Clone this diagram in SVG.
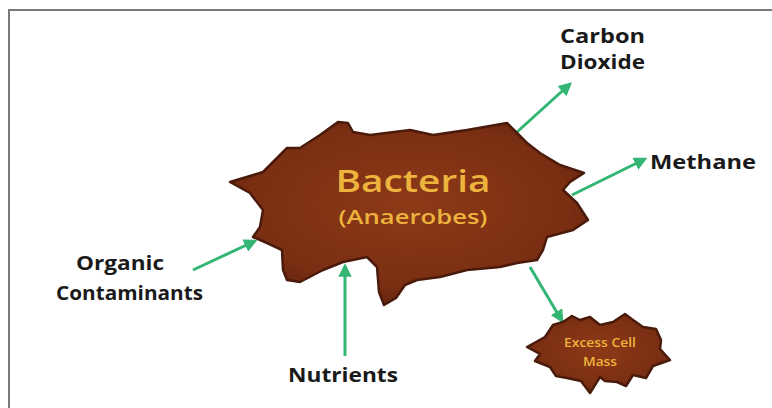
<svg xmlns="http://www.w3.org/2000/svg" width="772" height="408" viewBox="0 0 772 408">
<defs>
<style>
.lbl{font-family:"Open Sans","Liberation Sans",sans-serif;font-weight:700;font-size:19px;fill:#1a1a1a}
.gold{font-family:"Open Sans","Liberation Sans",sans-serif;font-weight:600;fill:#EDB33C}
.con{stroke:#33b574;stroke-width:3;fill:none;marker-end:url(#ah)}
.blob{stroke:#4a1a0a;stroke-width:2.5;stroke-linejoin:round}
</style>
<marker id="ah" viewBox="0 0 10 10" refX="8" refY="5" markerWidth="4.5" markerHeight="4.5" orient="auto" markerUnits="strokeWidth">
<path d="M0,0 L10,5 L0,10 z" fill="#33b574"/>
</marker>
<radialGradient id="bg" cx="0.5" cy="0.45" r="0.6">
<stop offset="0" stop-color="#8d3a18"/>
<stop offset="0.75" stop-color="#7a2e12"/>
<stop offset="1" stop-color="#5e220d"/>
</radialGradient>
</defs>
<rect width="772" height="408" fill="#fff"/>
<g id="frame" stroke="#7a7a7a" stroke-width="2" fill="none">
<path d="M9,408 V10 H772"/>
</g>
<g id="connectors">
<line class="con" x1="517" y1="132" x2="570" y2="84"/>
<line class="con" x1="572" y1="195" x2="645" y2="159"/>
<line class="con" x1="193" y1="270" x2="255" y2="241"/>
<line class="con" x1="345" y1="356" x2="345" y2="266"/>
<line class="con" x1="530" y1="267" x2="562" y2="321"/>
</g>
<g id="bacteria">
<path class="blob" fill="url(#bg)" d="M230,182 L250,176 L263,172 L278,157 L287,148 L300,148 L320,135 L338,122 L348,123 L353,132 L370,135 L410,130 L433,135 L467,130 L507,123 L517,133 L527,143 L540,153 L560,165 L584,173 L570,182 L563,190 L577,203 L588,220 L573,230 L547,237 L543,250 L537,260 L517,263 L500,267 L467,270 L440,277 L417,280 L405,285 L396,298 L384,305 L379,292 L377,267 L367,257 L343,262 L323,270 L300,282 L287,280 L283,270 L282,250 L267,243 L253,237 L260,227 L263,210 L250,193 Z"/>
<text class="gold" x="413" y="192" font-size="31" text-anchor="middle" textLength="155" lengthAdjust="spacingAndGlyphs">Bacteria</text>
<text class="gold" x="413" y="224" font-size="19" text-anchor="middle" textLength="149" lengthAdjust="spacingAndGlyphs">(Anaerobes)</text>
</g>
<g id="excess-cell-mass">
<path class="blob" fill="url(#bg)" d="M527,347 L545,337 L553,325 L563,322 L572,316 L580,320 L590,317 L600,325 L613,322 L625,314 L633,320 L643,327 L656,329 L661,340 L660,349 L670,360 L653,366 L646,378 L633,375 L626,386 L617,382 L605,381 L600,377 L590,393 L581,381 L567,378 L556,376 L550,367 L535,361 L540,354 Z"/>
<text class="gold" x="600" y="347" font-size="12" text-anchor="middle" textLength="72" lengthAdjust="spacingAndGlyphs">Excess Cell</text>
<text class="gold" x="600" y="366" font-size="12" text-anchor="middle" textLength="34" lengthAdjust="spacingAndGlyphs">Mass</text>
</g>
<g id="carbon-dioxide">
<text class="lbl" x="560" y="43" textLength="85" lengthAdjust="spacingAndGlyphs">Carbon</text>
<text class="lbl" x="560" y="69" textLength="85" lengthAdjust="spacingAndGlyphs">Dioxide</text>
</g>
<g id="methane">
<text class="lbl" x="650" y="169" textLength="106" lengthAdjust="spacingAndGlyphs">Methane</text>
</g>
<g id="organic-contaminants">
<text class="lbl" x="76" y="270" textLength="88" lengthAdjust="spacingAndGlyphs">Organic</text>
<text class="lbl" x="56" y="300" textLength="147" lengthAdjust="spacingAndGlyphs">Contaminants</text>
</g>
<g id="nutrients">
<text class="lbl" x="288" y="382" textLength="110" lengthAdjust="spacingAndGlyphs">Nutrients</text>
</g>
</svg>
